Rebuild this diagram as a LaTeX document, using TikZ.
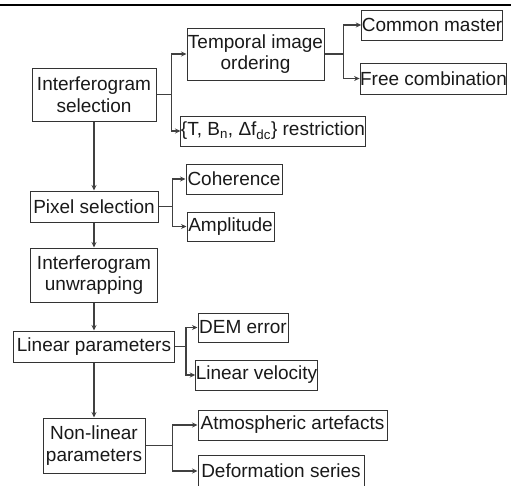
\documentclass[tikz,border=0pt]{standalone}
\usepackage{fontspec}
\setmainfont{Liberation Sans}
\usetikzlibrary{arrows.meta}

\newcommand{\boxfont}{\fontsize{19}{21.5}\selectfont}
\tikzstyle{box} = [draw=black!80,line width=1pt,inner sep=0pt,align=center,text=black!90,font=\boxfont]
\tikzstyle{arrowdecorate}=[-{Stealth[length=5.5pt,width=5pt]},line width=1.2pt,draw=black!75]
\tikzstyle{toprule} = [draw,line width=2pt,black]

\begin{document}
\begin{tikzpicture}[x=1pt,y=-1pt]
      \useasboundingbox (0,0) rectangle (511,485);
      \draw[toprule] (0,5) -- (511,5);
      %nodes
      \foreach \nodename/\x/\y/\w/\h/\label in {
        sel/94/94.5/124/53/{Interferogram\\selection},
        temp/255.5/54/137/52/{Temporal image\\ordering},
        common/432/25/140/30/{Common master},
        free/433.5/78.5/143/31/{Free combination},
        restr/273/131/176/30/{\{T, B\textsubscript{n}, Δf\textsubscript{dc}\} restriction},
        pix/94/206.5/128/31/{Pixel selection},
        coh/234/179/96/30/{Coherence},
        amp/230.5/226.5/87/29/{Amplitude},
        unwrap/94/275/127/54/{Interferogram\\unwrapping},
        lin/94/346.5/161/31/{Linear parameters},
        dem/243/327.5/90/29/{DEM error},
        vel/256.5/375/121/30/{Linear velocity},
        nonlin/94/445.5/102/55/{Non-linear\\parameters},
        atm/292.5/425/189/30/{Atmospheric artefacts},
        def/281/471/166/31/{Deformation series}}
      {
        \node[box, minimum width=\w pt, minimum height=\h pt] (\nodename) at (\x,\y) {\label};
      };
      %edges
      \foreach \startnode/\endnode in {sel/pix, pix/unwrap, unwrap/lin, lin/nonlin}
      {
        \draw[arrowdecorate] (\startnode) -- (\endnode);
      };
      \foreach \startnode/\endnode/\dx in {
        sel/temp/15, sel/restr/15, temp/common/19, temp/free/19, pix/coh/14, pix/amp/14,
        lin/dem/11, lin/vel/11, nonlin/atm/27, nonlin/def/27}
      {
        \draw[arrowdecorate] (\startnode.east) -- ++(\dx,0) |- (\endnode.west);
      };
    \end{tikzpicture}
\end{document}
